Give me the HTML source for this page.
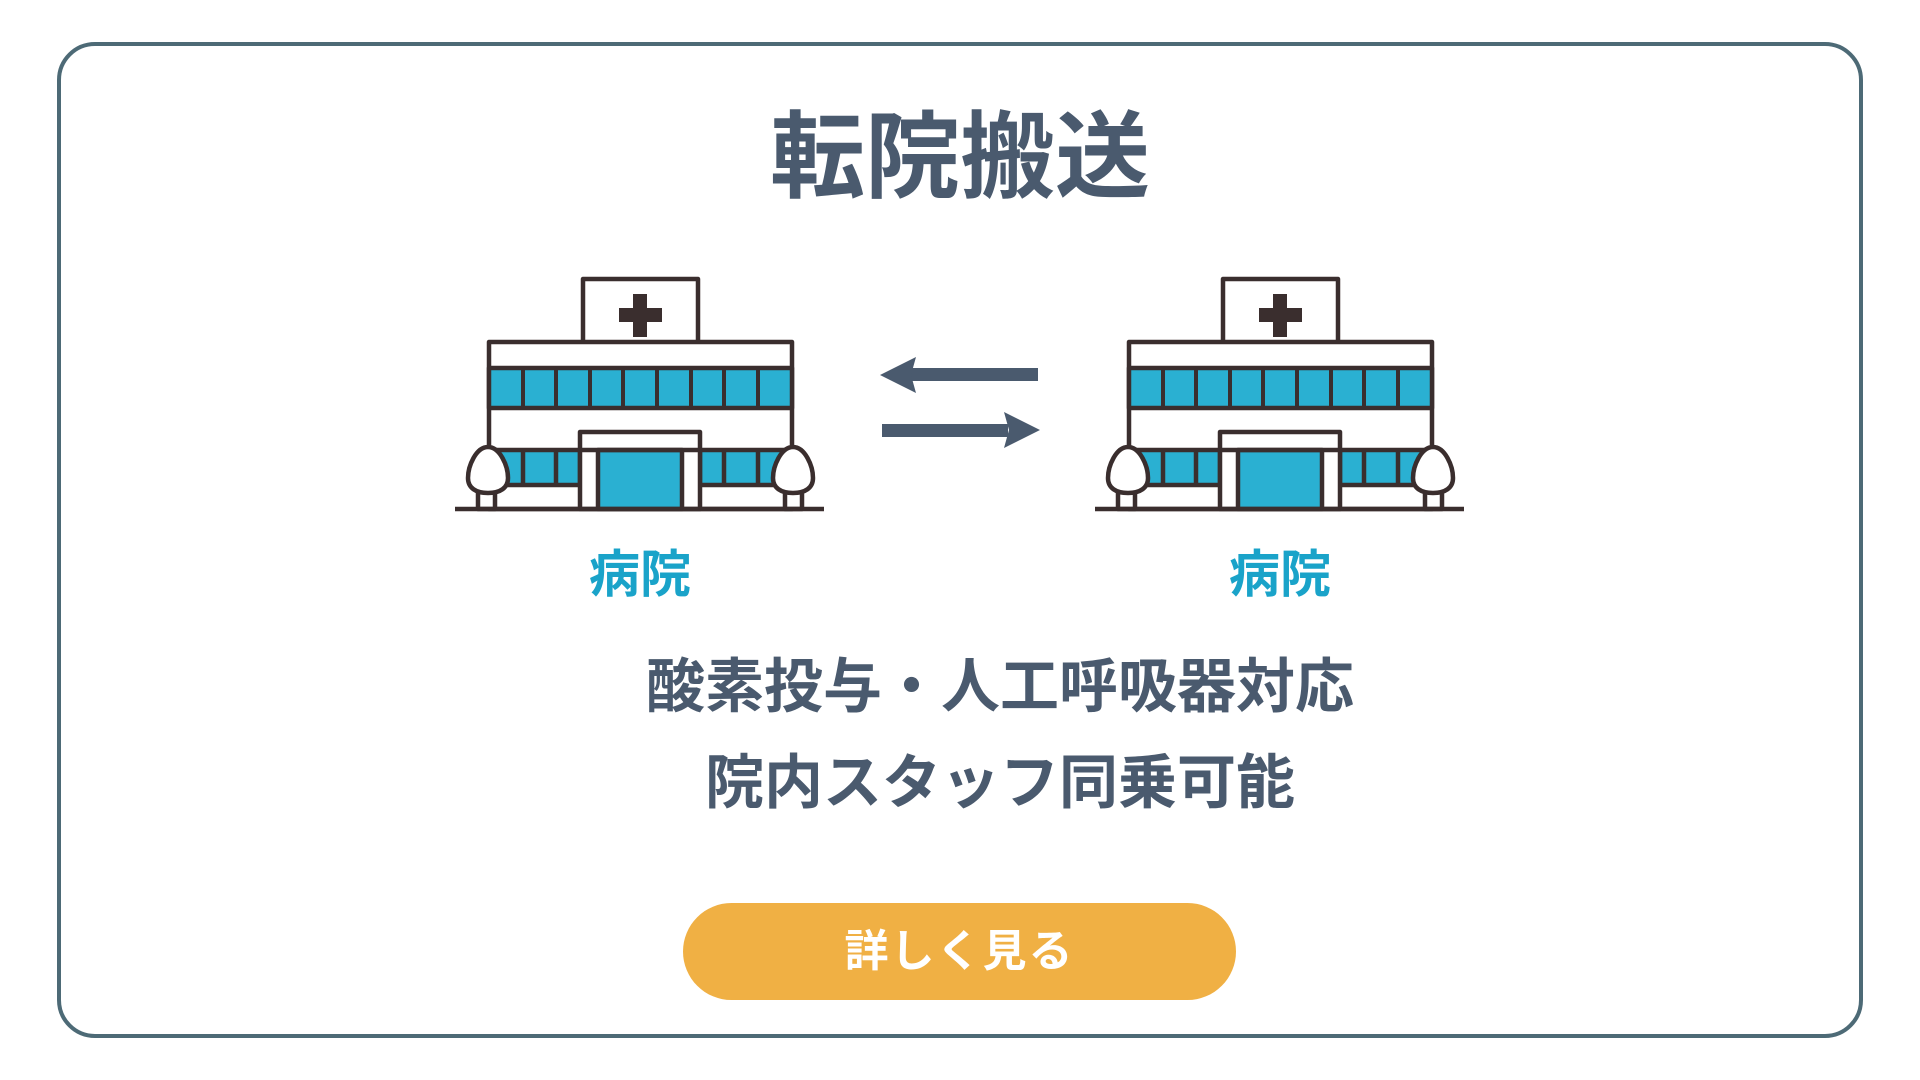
<!DOCTYPE html>
<html><head><meta charset="utf-8"><style>
html,body{margin:0;padding:0;background:#fff;width:1920px;height:1080px;overflow:hidden}
body{position:relative;font-family:"Liberation Sans","Noto Sans CJK JP",sans-serif}
.card{position:absolute;left:57px;top:42px;width:1798px;height:988px;border:4px solid #4d6a76;border-radius:38px}
.t{position:absolute;left:0;width:1920px;text-align:center;font-weight:700;white-space:nowrap}
.btn{position:absolute;left:683px;top:903px;width:553px;height:97px;border-radius:49px;background:#f0b044;color:#fff;font-weight:700;font-size:44px;line-height:97px;text-align:center;letter-spacing:2px}
</style></head><body>
<div class="card"></div>
<div class="t" style="top:103px;font-size:95px;color:#4a5a6e;line-height:110px">転院搬送</div>
<svg width="1920" height="1080" style="position:absolute;left:0;top:0">
<defs>
<g id="b" stroke="#3a2e2e" stroke-width="4.5" stroke-linejoin="round">
<rect x="583" y="279" width="115" height="65" fill="#fff"/>
<rect x="489" y="342" width="303" height="167" fill="#fff"/>
<rect x="489" y="368" width="303" height="40" fill="#2ab0d2"/>
<g stroke-width="4">
<line x1="523" y1="368" x2="523" y2="408"/><line x1="556" y1="368" x2="556" y2="408"/><line x1="590" y1="368" x2="590" y2="408"/><line x1="623" y1="368" x2="623" y2="408"/><line x1="657" y1="368" x2="657" y2="408"/><line x1="691" y1="368" x2="691" y2="408"/><line x1="724" y1="368" x2="724" y2="408"/><line x1="758" y1="368" x2="758" y2="408"/>
</g>
<rect x="489" y="450" width="91" height="35" fill="#2ab0d2"/>
<rect x="700" y="450" width="92" height="35" fill="#2ab0d2"/>
<line x1="523" y1="450" x2="523" y2="485"/><line x1="556" y1="450" x2="556" y2="485"/>
<line x1="724" y1="450" x2="724" y2="485"/><line x1="758" y1="450" x2="758" y2="485"/>
<rect x="580" y="432" width="120" height="77" fill="#fff"/>
<rect x="598" y="450" width="84" height="59" fill="#2ab0d2"/>
<line x1="580" y1="450" x2="700" y2="450"/>
<rect x="478" y="490" width="17" height="19" fill="#fff"/>
<path d="M488 447 C476 447 468 466 468 478 C468 488 476 493 488 493 C500 493 508 488 508 478 C508 466 500 447 488 447Z" fill="#fff"/>
<rect x="785" y="490" width="17" height="19" fill="#fff"/>
<path d="M793 447 C781 447 773 466 773 478 C773 488 781 493 793 493 C805 493 813 488 813 478 C813 466 805 447 793 447Z" fill="#fff"/>
<line x1="455" y1="509" x2="824" y2="509"/>
<rect x="619" y="308" width="43" height="14" fill="#3a2e2e" stroke="none"/>
<rect x="633" y="294" width="14" height="43" fill="#3a2e2e" stroke="none"/>
</g>
</defs>
<use href="#b"/>
<use href="#b" transform="translate(640,0)"/>
<g fill="#4a5a6e">
<rect x="910" y="368" width="128" height="13"/>
<polygon points="880,375 916,357 911,375 916,393"/>
<rect x="882" y="424" width="126" height="13"/>
<polygon points="1040,430 1004,412 1009,430 1004,448"/>
</g>
</svg>
<div class="t" style="left:-320px;top:545px;font-size:51px;color:#1aa3c9;line-height:60px">病院</div>
<div class="t" style="left:320px;top:545px;font-size:51px;color:#1aa3c9;line-height:60px">病院</div>
<div class="t" style="left:40px;top:652px;font-size:59px;color:#4a5a6e;line-height:70px">酸素投与・人工呼吸器対応</div>
<div class="t" style="left:40px;top:748px;font-size:59px;color:#4a5a6e;line-height:70px">院内スタッフ同乗可能</div>
<div class="btn">詳しく見る</div>
</body></html>
